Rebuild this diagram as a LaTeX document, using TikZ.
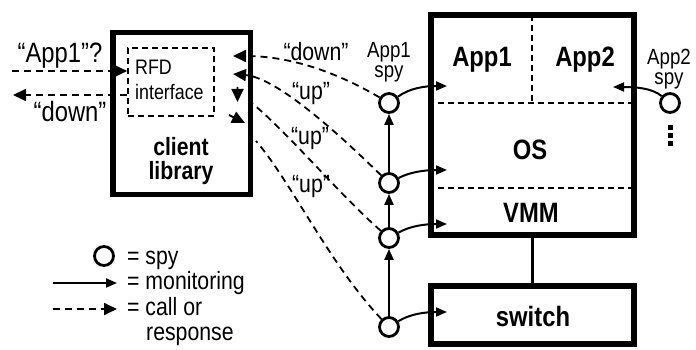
\documentclass[tikz,border=0pt]{standalone}
\usepackage{fontspec}
\setmainfont{Liberation Sans}[FakeStretch=0.85]
\usetikzlibrary{arrows.meta}
\newcommand\setfs[2]{\fontsize{#1pt}{#2pt}\selectfont}
\begin{document}
\begin{tikzpicture}[x=1pt,y=-1pt,
  box/.style={draw,line width=5.5pt,inner sep=0pt},
  dbox/.style={draw,line width=1.6pt,dash pattern=on 6pt off 4pt,inner sep=0pt},
  sep/.style={line width=1.6pt,dash pattern=on 6pt off 4pt},
  spy/.style={circle,draw,line width=2.8pt,minimum size=19pt,inner sep=0pt},
  mon/.style={line width=2pt,-{Triangle[length=11pt,width=9pt]}},
  call/.style={line width=1.8pt,dash pattern=on 7pt off 5pt,-{Triangle[length=13pt,width=12pt]}},
  txt/.style={inner sep=0pt,font=\setfs{25}{25}},
  bold/.style={inner sep=0pt,font=\bfseries\setfs{28}{28}},
  dot/.style={fill=black}
]
\useasboundingbox (0,0) rectangle (696,350);

% client library
\node[box,minimum width=137.5pt,minimum height=161.5pt] (cl) at (181.5,113.5) {};
\node[dbox,minimum width=86pt,minimum height=68pt] (rfd) at (171,82) {};
\node[txt,anchor=west,align=left,font=\setfs{21}{25}] (rfdt) at (135,80) {RFD\\interface};
\node[txt,align=center,font=\bfseries\setfs{25}{24}] (clt) at (181,161) {client\\library};

% external call / response
\node[txt,anchor=base,font=\setfs{28}{28}] (qapp) at (60,63) {“App1”?};
\node[txt,anchor=base,font=\setfs{28}{28}] (qdown) at (70,122) {“down”};
\coordinate (inA) at (12,71);
\coordinate (outB) at (13,95);
\draw[call] (inA) -- (rfd.west |- inA);
\draw[call] (rfd.west |- outB) -- (outB);

% host box
\node[box,line width=6pt,minimum width=203pt,minimum height=220pt] (host) at (532.5,125) {};
\coordinate (hA) at (host.west |- 0,103);
\coordinate (hB) at (host.east |- 0,103);
\coordinate (hC) at (host.west |- 0,188);
\coordinate (hD) at (host.east |- 0,188);
\coordinate (hT) at (532,15);
\coordinate (hM) at (532,103);
\draw[sep] (hA) -- (hB);
\draw[sep] (hC) -- (hD);
\draw[sep] (hT) -- (hM);
\node[bold] (app1) at (482,60) {App1};
\node[bold] (app2) at (585,60) {App2};
\node[bold] (os) at (530,150) {OS};
\node[bold] (vmm) at (531,213) {VMM};

% switch
\node[box,line width=6pt,minimum width=203pt,minimum height=58pt] (sw) at (532.5,315) {};
\node[bold] (swt) at (533,316) {switch};
\draw[line width=3pt] (host.south) -- (sw.north);

% spies
\node[spy] (s1) at (389,103) {};
\node[spy] (s2) at (389,183) {};
\node[spy] (s3) at (389,238) {};
\node[spy] (s4) at (389,327) {};
\node[spy] (s5) at (670,103) {};
\node[txt,align=center,font=\setfs{22}{20}] (s1l) at (389,62) {App1\\spy};
\node[txt,align=center,font=\setfs{22}{20}] (s5l) at (669,69) {App2\\spy};
\fill[dot] (667.5,125) rectangle (672.5,130);
\fill[dot] (667.5,133) rectangle (672.5,138);
\fill[dot] (667.5,141) rectangle (672.5,146);

% monitoring
\draw[mon] (s2) -- (s1);
\draw[mon] (s3) -- (s2);
\draw[mon] (s4) -- (s3);
\coordinate (m1) at (447,86);
\coordinate (m2) at (447,170);
\coordinate (m3) at (447,224);
\coordinate (m4) at (447,312);
\coordinate (m5) at (613,87);
\draw[mon] (s1) .. controls (410,88) and (425,86) .. (m1);
\draw[mon] (s2) .. controls (410,172) and (425,170) .. (m2);
\draw[mon] (s3) .. controls (410,226) and (425,224) .. (m3);
\draw[mon] (s4) .. controls (410,314) and (425,312) .. (m4);
\draw[mon] (s5) .. controls (652,88) and (635,87) .. (m5);

% responses to client library
\coordinate (t1) at (233,56);
\coordinate (t2) at (233,74);
\coordinate (c3) at (253,104);
\coordinate (u3) at (237.5,87);
\coordinate (t3) at (237.5,102);
\coordinate (c4) at (256,141);
\coordinate (u4) at (229,115);
\coordinate (t4) at (245,123);
\draw[call] (s1) .. controls (350,80) and (300,56) .. (t1);
\draw[call] (s2) .. controls (350,145) and (280,78) .. (t2);
\draw[call] (s3) .. controls (340,195) and (290,135) .. (c3) (u3) -- (t3);
\draw[call] (s4) .. controls (330,265) and (290,180) .. (c4) (u4) -- (t4);
\node[txt] (ldown) at (316,52) {“down”};
\node[txt] (lup1) at (311,93) {“up”};
\node[txt] (lup2) at (310,138) {“up”};
\node[txt] (lup3) at (311,186) {“up”};

% legend
\node[spy] (lgs) at (104,256) {};
\coordinate (lg1a) at (53,283);
\coordinate (lg1b) at (117,283);
\coordinate (lg2a) at (53,309);
\coordinate (lg2b) at (117,309);
\draw[mon] (lg1a) -- (lg1b);
\draw[call] (lg2a) -- (lg2b);
\node[txt,anchor=base west] (lgt1) at (127,264) {= spy};
\node[txt,anchor=base west] (lgt2) at (127,289) {= monitoring};
\node[txt,anchor=base west] (lgt3) at (127,315) {= call or};
\node[txt,anchor=base west] (lgt4) at (146,340) {response};
\end{tikzpicture}
\end{document}
